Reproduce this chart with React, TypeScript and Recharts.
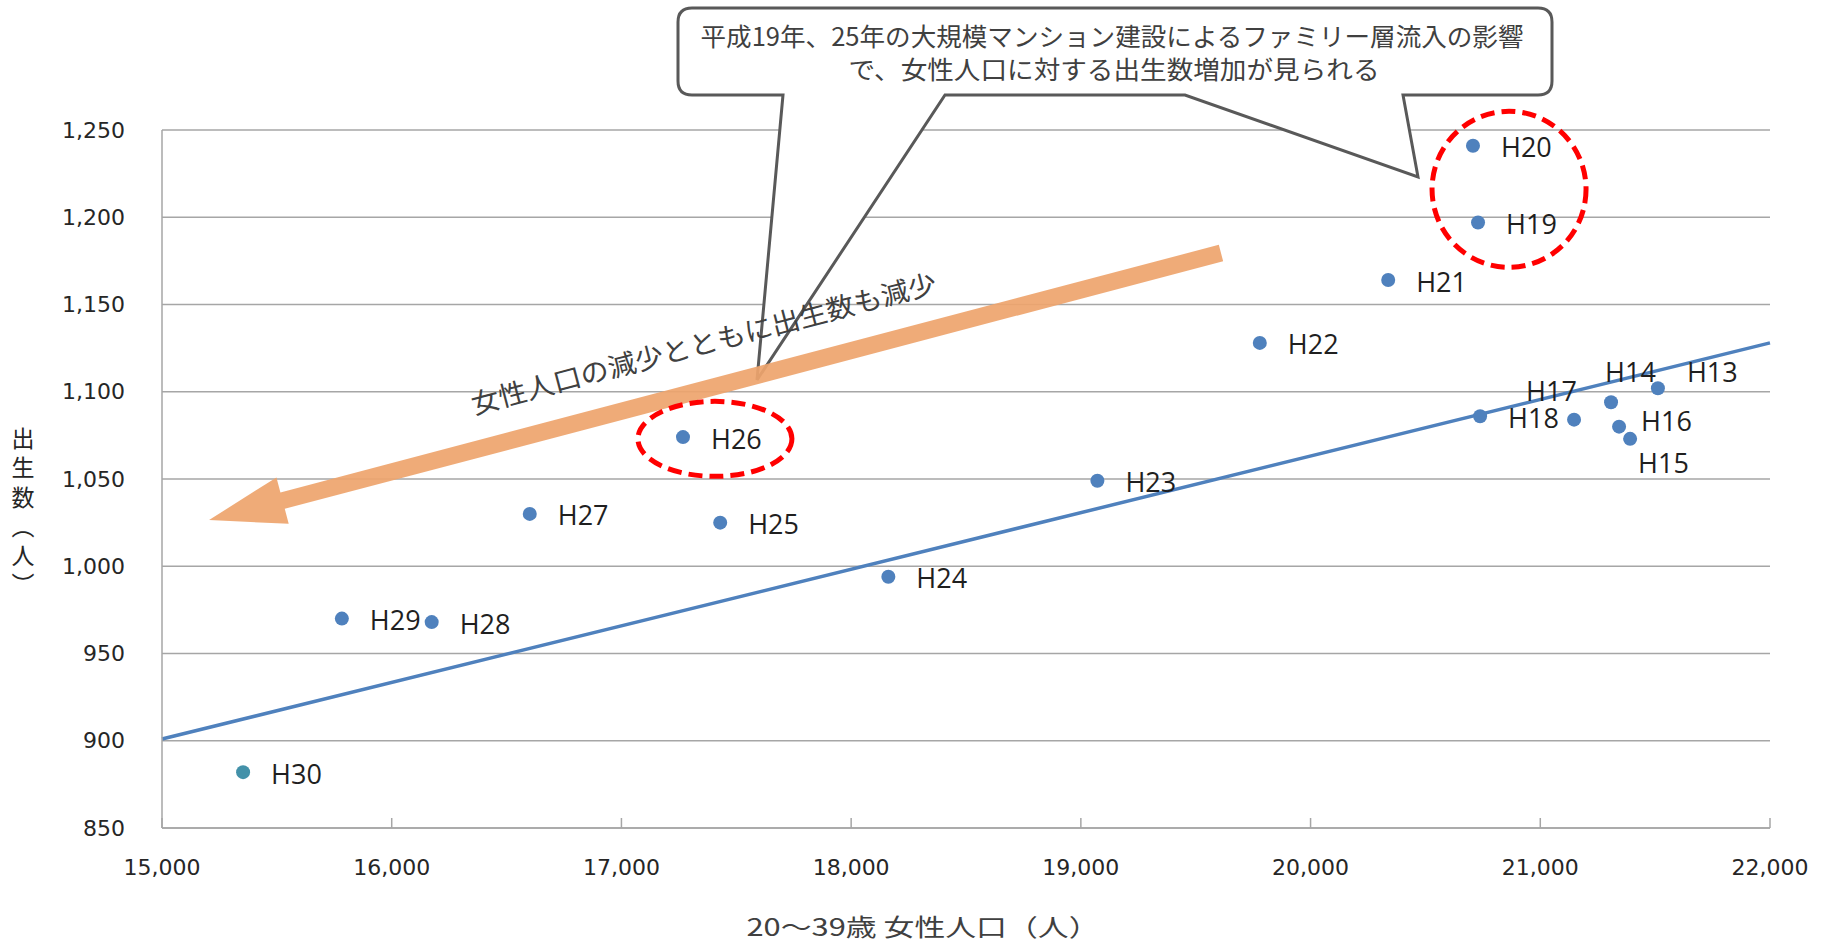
import React from "react";
import {
  ScatterChart,
  Scatter,
  XAxis,
  YAxis,
  CartesianGrid,
  ReferenceLine,
  ReferenceDot,
} from "recharts";

// 年次ラベル・20〜39歳女性人口・出生数
const years = [
  "H13", "H14", "H15", "H16", "H17", "H18", "H19", "H20", "H21",
  "H22", "H23", "H24", "H25", "H26", "H27", "H28", "H29", "H30",
];
const femalePop = [
  21512, 21308, 21391, 21343, 21147, 20738, 20729, 20707, 20338,
  19779, 19072, 18162, 17430, 17268, 16601, 16174, 15783, 15353,
];
const births = [
  1102, 1094, 1073, 1080, 1084, 1086, 1197, 1241, 1164,
  1128, 1049, 994, 1025, 1074, 1030, 968, 970, 882,
];

const xTicks = [15000, 16000, 17000, 18000, 19000, 20000, 21000, 22000];
const yTicks = [850, 900, 950, 1000, 1050, 1100, 1150, 1200, 1250];

// 近似直線の両端
const trendX = [15000, 22000];
const trendY = [901, 1128];

const calloutLines = [
  "平成19年、25年の大規模マンション建設によるファミリー層流入の影響",
  "で、女性人口に対する出生数増加が見られる",
];
const arrowText = "女性人口の減少とともに出生数も減少";
const xTitle = "20〜39歳 女性人口（人）";
const yTitle = "出生数（人）";

const points = years.map((name, i) => ({ name, x: femalePop[i], y: births[i] }));

const GRID = "#A6A6A6";
const BLUE = "#4F81BD";
const TICK_FONT = "'DejaVu Sans', Verdana, sans-serif";
const JP_FONT = "'Noto Sans CJK JP', sans-serif";

// ラベル位置の調整（重なる点のみ）
const labelOffset: Record<string, [number, number]> = {
  H13: [29, -17],
  H14: [-6, -31],
  H17: [-48, -29],
  H16: [22, -6],
  H15: [8, 24],
};

const PointShape = (p: any) => {
  const { cx, cy, payload } = p;
  if (cx == null || cy == null) return null;
  const [dx, dy] = labelOffset[payload.name] ?? [28, 1];
  return (
    <g>
      <circle cx={cx} cy={cy} r={7} fill={payload.name === "H30" ? "#4391A9" : BLUE} />
      <text
        x={cx + dx}
        y={cy + dy}
        dominantBaseline="central"
        fontFamily="'Open Sans', sans-serif"
        fontSize={27}
        fill="#1f1f1f"
      >
        {payload.name}
      </text>
    </g>
  );
};

const XTick = (p: any) => {
  const { x, y, payload } = p;
  return (
    <g>
      <line x1={x} x2={x} y1={y - 10} y2={y} stroke={GRID} strokeWidth={1.5} />
      <text
        x={x}
        y={y + 39}
        textAnchor="middle"
        dominantBaseline="central"
        fontFamily={TICK_FONT}
        fontSize={22}
        fill="#262626"
      >
        {Number(payload.value).toLocaleString("en-US")}
      </text>
    </g>
  );
};

const YTick = (p: any) => {
  const { x, y, payload } = p;
  return (
    <text
      x={x - 37}
      y={y}
      textAnchor="end"
      dominantBaseline="central"
      fontFamily={TICK_FONT}
      fontSize={22}
      fill="#262626"
    >
      {Number(payload.value).toLocaleString("en-US")}
    </text>
  );
};

const Callout = () => (
  <g>
    <path
      d="M692,8 H1538 Q1552,8 1552,22 V81 Q1552,95 1538,95 H1403 L1418,177 L1185,95 H945 L757,380 L783,95 H692 Q678,95 678,81 V22 Q678,8 692,8 Z"
      fill="#fff"
      stroke="#595959"
      strokeWidth={3}
    />
    <text
      x={1112}
      y={35}
      textAnchor="middle"
      dominantBaseline="central"
      fontFamily={JP_FONT}
      fontSize={25}
      fill="#404040"
      textLength={823}
      lengthAdjust="spacingAndGlyphs"
    >
      {calloutLines[0]}
    </text>
    <text
      x={1114}
      y={68}
      textAnchor="middle"
      dominantBaseline="central"
      fontFamily={JP_FONT}
      fontSize={25}
      fill="#404040"
      textLength={531}
      lengthAdjust="spacingAndGlyphs"
    >
      {calloutLines[1]}
    </text>
  </g>
);

const ArrowShape = (p: any) => {
  let { x1, y1, x2, y2 } = p;
  if ([x1, y1, x2, y2].some((v) => v == null)) return null;
  // tail = 右上, tip = 左下
  if (x1 < x2) [x1, y1, x2, y2] = [x2, y2, x1, y1];
  const dx = x2 - x1;
  const dy = y2 - y1;
  const len = Math.hypot(dx, dy);
  const ux = dx / len;
  const uy = dy / len;
  const nx = -uy;
  const ny = ux;
  const hw = 8.5;
  const headLen = 76;
  const headW = 24;
  const bx = x2 - ux * headLen;
  const by = y2 - uy * headLen;
  const pts = [
    [x1 + nx * hw, y1 + ny * hw],
    [bx + nx * hw, by + ny * hw],
    [bx + nx * headW, by + ny * headW],
    [x2, y2],
    [bx - nx * headW, by - ny * headW],
    [bx - nx * hw, by - ny * hw],
    [x1 - nx * hw, y1 - ny * hw],
  ]
    .map((q) => q.join(","))
    .join(" ");
  const mx = (x1 + x2) / 2;
  const my = (y1 + y2) / 2;
  // 上向きの法線
  const ox = ny > 0 ? -nx : nx;
  const oy = ny > 0 ? -ny : ny;
  const tx = mx + ox * 46;
  const ty = my + oy * 46;
  const ang = (Math.atan2(y1 - y2, x1 - x2) * 180) / Math.PI;
  return (
    <g>
      <polygon points={pts} fill="#EEA46C" fillOpacity={0.92} />
      <text
        x={tx}
        y={ty}
        transform={`rotate(${ang} ${tx} ${ty})`}
        textAnchor="middle"
        dominantBaseline="central"
        fontFamily={JP_FONT}
        fontSize={27}
        fill="#404040"
        textLength={480}
        lengthAdjust="spacingAndGlyphs"
      >
        {arrowText}
      </text>
    </g>
  );
};

const ellipseShape = (rx: number, ry: number) => (p: any) => {
  const { cx, cy } = p;
  if (cx == null || cy == null) return null;
  return (
    <ellipse
      cx={cx}
      cy={cy}
      rx={rx}
      ry={ry}
      fill="none"
      stroke="#FF0000"
      strokeWidth={5}
      strokeDasharray="14 7"
    />
  );
};

export default function App() {
  return (
    <div
      style={{
        position: "absolute",
        left: 0,
        top: 0,
        width: 1831,
        height: 941,
        background: "#fff",
      }}
    >
      <ScatterChart
        width={1831}
        height={941}
        margin={{ top: 130, right: 61, bottom: 0, left: 0 }}
      >
        <CartesianGrid horizontal vertical={false} stroke={GRID} strokeWidth={1.5} />
        <XAxis
          type="number"
          dataKey="x"
          domain={[15000, 22000]}
          ticks={xTicks}
          interval={0}
          height={113}
          tickSize={0}
          tickMargin={0}
          tickLine={false}
          axisLine={{ stroke: GRID, strokeWidth: 1.5 }}
          tick={<XTick />}
          allowDataOverflow
        />
        <YAxis
          type="number"
          dataKey="y"
          domain={[850, 1250]}
          ticks={yTicks}
          interval={0}
          width={162}
          tickSize={0}
          tickMargin={0}
          tickLine={false}
          axisLine={{ stroke: GRID, strokeWidth: 1.5 }}
          tick={<YTick />}
          allowDataOverflow
        />
        <ReferenceLine
          segment={[
            { x: 17000, y: 1250 },
            { x: 18000, y: 1250 },
          ]}
          ifOverflow="visible"
          shape={Callout}
        />
        <ReferenceLine
          segment={[
            { x: trendX[0], y: trendY[0] },
            { x: trendX[1], y: trendY[1] },
          ]}
          stroke={BLUE}
          strokeWidth={3.5}
          ifOverflow="visible"
        />
        <ReferenceLine
          segment={[
            { x: 19610, y: 1179.5 },
            { x: 15205, y: 1026.5 },
          ]}
          ifOverflow="visible"
          shape={ArrowShape}
        />
        <ReferenceDot x={20864} y={1216} r={1} ifOverflow="visible" shape={ellipseShape(77, 78)} />
        <ReferenceDot x={17407} y={1073} r={1} ifOverflow="visible" shape={ellipseShape(77, 37.5)} />
        <Scatter data={points} shape={PointShape} isAnimationActive={false} />
        <text
          x={923}
          y={925}
          textAnchor="middle"
          dominantBaseline="central"
          fontFamily={JP_FONT}
          fontSize={24}
          fill="#404040"
          textLength={353}
          lengthAdjust="spacingAndGlyphs"
        >
          {xTitle}
        </text>
        <text
          x={23}
          y={427}
          fontFamily={JP_FONT}
          fontSize={23}
          fill="#262626"
          style={{ writingMode: "vertical-rl" }}
          textLength={169}
          lengthAdjust="spacing"
        >
          {yTitle}
        </text>
      </ScatterChart>
    </div>
  );
}
